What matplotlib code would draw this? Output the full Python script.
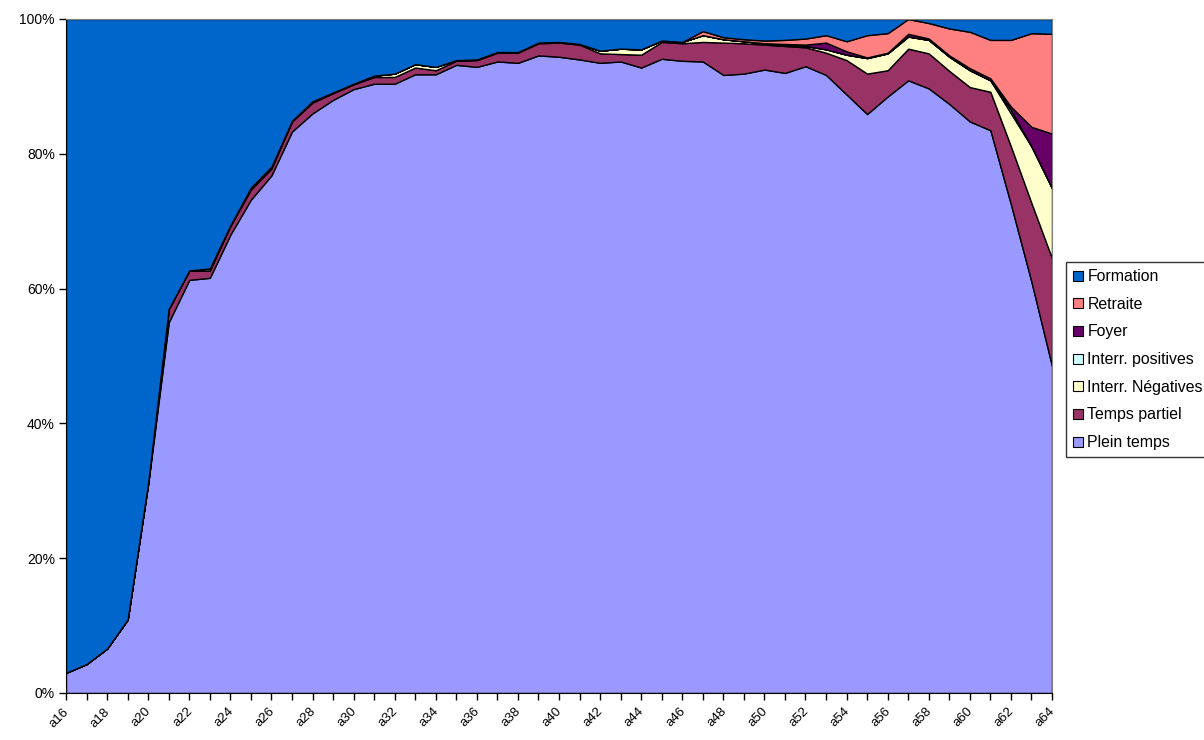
import matplotlib
matplotlib.use("Agg")
import matplotlib.pyplot as plt
import matplotlib.transforms as mtransforms
import numpy as np
from matplotlib.patches import Patch
from matplotlib.ticker import FuncFormatter

plt.rcParams["font.family"] = ["Liberation Sans", "DejaVu Sans"]

ages = [f"a{a}" for a in range(16, 65)]

plein_temps = [3.0, 4.3, 6.6, 10.9, 31.0, 55.0, 61.3, 61.6, 68.0, 73.2,
               76.8, 83.3, 86.0, 88.0, 89.6, 90.4, 90.4, 91.8, 91.8, 93.2,
               92.9, 93.7, 93.5, 94.6, 94.4, 94.0, 93.5, 93.7, 92.8, 94.1,
               93.8, 93.7, 91.7, 91.9, 92.5, 92.0, 93.0, 91.7, 88.8, 85.9,
               88.5, 90.9, 89.7, 87.4, 84.8, 83.5, 72.5, 61.0, 48.5]
temps_partiel = [0.0, 0.0, 0.0, 0.0, 0.2, 2.0, 1.4, 1.1, 1.3, 1.5,
                 1.0, 1.5, 1.6, 1.0, 0.7, 1.0, 1.0, 1.0, 0.6, 0.6,
                 1.0, 1.3, 1.5, 1.8, 2.1, 2.2, 1.4, 1.1, 1.9, 2.5,
                 2.6, 2.9, 4.8, 4.5, 3.7, 4.0, 2.8, 3.3, 5.1, 6.0,
                 3.9, 4.7, 5.2, 4.9, 5.1, 5.7, 8.6, 11.7, 16.0]
interr_neg = [0.0, 0.0, 0.0, 0.0, 0.0, 0.0, 0.0, 0.0, 0.1, 0.3,
              0.3, 0.1, 0.2, 0.1, 0.1, 0.2, 0.5, 0.5, 0.5, 0.1,
              0.1, 0.1, 0.1, 0.1, 0.1, 0.1, 0.4, 0.8, 0.8, 0.2,
              0.2, 1.0, 0.5, 0.3, 0.2, 0.2, 0.2, 0.5, 0.8, 2.3,
              2.5, 1.8, 2.0, 2.1, 2.5, 1.7, 4.9, 8.4, 10.4]
interr_pos = [0.0, 0.0, 0.0, 0.0, 0.0, 0.0, 0.0, 0.3, 0.0, 0.0,
              0.0, 0.0, 0.0, 0.0, 0.0, 0.0, 0.0, 0.0, 0.0, 0.0,
              0.0, 0.0, 0.0, 0.0, 0.0, 0.0, 0.0, 0.0, 0.0, 0.0,
              0.0, 0.0, 0.0, 0.0, 0.0, 0.0, 0.0, 0.0, 0.0, 0.0,
              0.0, 0.0, 0.0, 0.0, 0.0, 0.0, 0.5, 0.0, 0.0]
foyer = [0.0, 0.0, 0.0, 0.0, 0.0, 0.0, 0.0, 0.0, 0.0, 0.0,
         0.0, 0.0, 0.0, 0.0, 0.0, 0.0, 0.0, 0.0, 0.0, 0.0,
         0.0, 0.0, 0.0, 0.0, 0.0, 0.0, 0.0, 0.0, 0.0, 0.0,
         0.0, 0.0, 0.0, 0.0, 0.0, 0.1, 0.2, 1.0, 0.5, 0.1,
         0.1, 0.4, 0.2, 0.2, 0.3, 0.3, 0.5, 2.9, 8.1]
retraite = [0.0, 0.0, 0.0, 0.0, 0.0, 0.0, 0.0, 0.0, 0.0, 0.0,
            0.0, 0.0, 0.0, 0.0, 0.0, 0.0, 0.0, 0.0, 0.0, 0.0,
            0.0, 0.0, 0.0, 0.0, 0.0, 0.0, 0.0, 0.0, 0.0, 0.0,
            0.0, 0.6, 0.3, 0.3, 0.4, 0.6, 0.9, 1.1, 1.5, 3.3,
            2.9, 2.2, 2.3, 4.0, 5.4, 5.7, 9.9, 13.9, 14.8]
formation = [97.0, 95.7, 93.4, 89.1, 68.8, 43.0, 37.3, 37.0, 30.6, 25.0,
             21.9, 15.1, 12.2, 10.9, 9.6, 8.4, 8.1, 6.7, 7.1, 6.1,
             6.0, 4.9, 4.9, 3.5, 3.4, 3.7, 4.7, 4.4, 4.5, 3.2,
             3.4, 1.8, 2.7, 3.0, 3.2, 3.1, 2.9, 2.4, 3.3, 2.4,
             2.1, 0.0, 0.6, 1.4, 1.9, 3.1, 3.1, 2.1, 2.2]

labels = ["Plein temps", "Temps partiel", "Interr. Négatives", "Interr. positives",
          "Foyer", "Retraite", "Formation"]
colors = ["#9999FF", "#993366", "#FFFFCC", "#CCFFFF", "#660066", "#FF8080", "#0066CC"]

series = np.array([plein_temps, temps_partiel, interr_neg, interr_pos, foyer,
                   retraite, formation])
x = np.arange(len(ages))

fig = plt.figure(figsize=(12.04, 7.40), dpi=100)
ax = fig.add_axes([66 / 1204, 47 / 740, 986 / 1204, 674 / 740])

ax.stackplot(x, series, colors=colors, edgecolor="black", linewidth=1.0)

ax.set_xlim(0, len(ages) - 1)
ax.set_ylim(0, 100)
ax.set_yticks(np.arange(0, 101, 20))
ax.yaxis.set_major_formatter(FuncFormatter(lambda v, p: f"{int(v)}%"))
ax.set_xticks(x)
ax.set_xticklabels([a if i % 2 == 0 else "" for i, a in enumerate(ages)],
                   rotation=45, ha="right", rotation_mode="anchor")
ax.tick_params(axis="both", direction="out", length=5, width=1, colors="black")
ax.tick_params(axis="y", labelsize=10, pad=3)
ax.tick_params(axis="x", labelsize=9.5, pad=4)

# nudge the slanted category labels a little to the left of their ticks
shift = mtransforms.ScaledTranslation(-3 / 100, 0, fig.dpi_scale_trans)
for lbl in ax.get_xticklabels():
    lbl.set_transform(lbl.get_transform() + shift)

for side in ("top", "right"):
    ax.spines[side].set_color("#808080")
for side in ("left", "bottom"):
    ax.spines[side].set_color("black")

handles = [Patch(facecolor=c, edgecolor="black", linewidth=0.8, label=l)
           for c, l in zip(colors, labels)]
leg = fig.legend(handles[::-1], labels[::-1], loc="upper left",
                 bbox_to_anchor=(1066 / 1204, 1 - 262 / 740), fontsize=11.4,
                 frameon=True, fancybox=False, edgecolor="black",
                 handlelength=0.6, handleheight=0.6, handletextpad=0.3,
                 labelspacing=0.8, borderpad=0.45, borderaxespad=0)
leg.get_frame().set_linewidth(1.0)

fig.savefig("out.png", dpi=100)
